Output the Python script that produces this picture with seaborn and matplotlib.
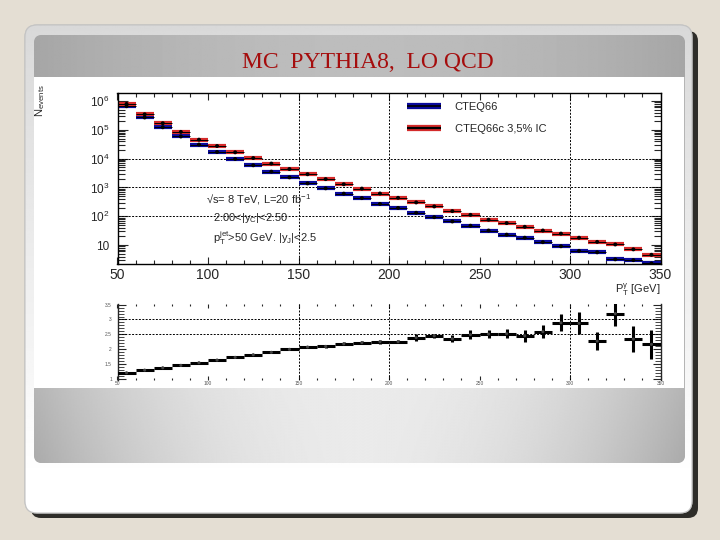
import numpy as np
import pandas as pd
import seaborn as sns
import matplotlib
matplotlib.use("Agg")
import matplotlib.pyplot as plt
from matplotlib.patches import FancyBboxPatch, Rectangle
from matplotlib.lines import Line2D
from matplotlib.ticker import FixedLocator, FixedFormatter, LogLocator, MultipleLocator, NullFormatter

# ---------------- data ----------------
bin_lo = list(range(50, 350, 10))
n_cteq66 = [661000, 269000, 123000, 58900, 30900, 17000, 9770, 5890, 3550, 2240,
            1380, 933, 610, 427, 269, 195, 132, 93, 66, 47,
            32, 23, 18, 12.6, 9.1, 6.3, 5.6, 3.2, 3.0, 2.3]
n_cteq66c = [794000, 347000, 170000, 85100, 45700, 27500, 16600, 10500, 6760, 4370,
             2880, 1950, 1290, 912, 617, 437, 302, 219, 151, 112,
             76, 58, 43, 32, 25, 18, 12.9, 10.5, 7.1, 4.6]
ratio = [1.20, 1.29, 1.37, 1.45, 1.54, 1.63, 1.72, 1.81, 1.89, 1.99,
         2.07, 2.09, 2.18, 2.22, 2.25, 2.25, 2.39, 2.45, 2.35, 2.49,
         2.51, 2.52, 2.45, 2.59, 2.89, 2.87, 2.27, 3.20, 2.34, 2.16]
ratio_err = [0.01, 0.01, 0.01, 0.015, 0.015, 0.02, 0.02, 0.025, 0.03, 0.03,
             0.035, 0.04, 0.045, 0.05, 0.07, 0.06, 0.12, 0.06, 0.11, 0.16,
             0.15, 0.16, 0.20, 0.22, 0.28, 0.37, 0.31, 0.43, 0.45, 0.48]
y_ticks_main = [10, 1e2, 1e3, 1e4, 1e5, 1e6]
y_ticklabels_main = ["10", "10$^2$", "10$^3$", "10$^4$", "10$^5$", "10$^6$"]
r_ticks = [1, 1.5, 2, 2.5, 3, 3.5]
r_ticklabels = ["1", "1.5", "2", "2.5", "3", "3.5"]
x_ticks = [50, 100, 150, 200, 250, 300, 350]
legend_labels = ["CTEQ66", "CTEQ66c 3,5% IC"]
title = "MC  PYTHIA8,  LO QCD"

df = pd.DataFrame({"lo": bin_lo})
df["hi"] = df["lo"] + 10
df["center"] = df["lo"] + 5
df["CTEQ66"] = n_cteq66
df["CTEQ66c"] = n_cteq66c
df["ratio"] = ratio
df["err"] = ratio_err

# ---------------- figure ----------------
sns.set_style("ticks")
plt.rcParams["font.family"] = ["Liberation Sans", "DejaVu Sans"]
plt.rcParams["mathtext.fontset"] = "custom"
plt.rcParams["mathtext.rm"] = "Liberation Sans"
plt.rcParams["mathtext.it"] = "Liberation Sans"
W, H = 720, 540
fig = plt.figure(figsize=(7.2, 5.4), dpi=100, facecolor="#e4ded3")

def px_rect(x0, y0, x1, y1):
    return [x0 / W, 1 - y1 / H, (x1 - x0) / W, (y1 - y0) / H]

# background slide
bg = fig.add_axes([0, 0, 1, 1], zorder=0)
bg.set_xlim(0, W)
bg.set_ylim(H, 0)
bg.axis("off")

shadow = FancyBboxPatch((31, 31), 667, 487, boxstyle="round,pad=0,rounding_size=10",
                        fc="#2e2d29", ec="none")
bg.add_patch(shadow)
card = FancyBboxPatch((25, 25), 667, 488, boxstyle="round,pad=0,rounding_size=12",
                      fc="white", ec="#bdbdbd", lw=0.8)
bg.add_patch(card)
yy = np.linspace(0, 1, 200)[:, None]
card_grad = np.clip(0.85 + 0.15 * yy / 0.93, 0, 1) * np.ones((1, 10))
im = bg.imshow(card_grad, extent=(25, 692, 513, 25), origin="upper", cmap="gray",
               vmin=0, vmax=1, aspect="auto", zorder=1)
im.set_clip_path(card)
card_edge = FancyBboxPatch((25, 25), 667, 488, boxstyle="round,pad=0,rounding_size=12",
                           fc="none", ec="#c4c4c4", lw=0.8, zorder=2)
bg.add_patch(card_edge)

panel = FancyBboxPatch((34, 35), 651, 428, boxstyle="round,pad=0,rounding_size=8",
                       fc="#b5b5b5", ec="none", zorder=2)
bg.add_patch(panel)
t = np.linspace(-1, 1, 400)[None, :]
head = 0.74 - 0.09 * np.abs(t) ** 2 * np.ones((10, 1))
im2 = bg.imshow(head, extent=(34, 685, 77, 35), origin="upper", cmap="gray",
                vmin=0, vmax=1, aspect="auto", zorder=3)
im2.set_clip_path(panel)
v = np.linspace(0, 1, 100)[:, None]
low = 0.92 - 0.21 * np.abs(t) ** 2.2 - 0.04 * v * np.abs(t)
im3 = bg.imshow(low, extent=(34, 685, 463, 388), origin="upper", cmap="gray",
                vmin=0, vmax=1, aspect="auto", zorder=3)
im3.set_clip_path(panel)
bg.add_patch(Rectangle((34, 77), 650, 311, fc="white", ec="none", zorder=4))
bg.text(368, 62, title, ha="center", va="center", fontsize=17, color="#a50d0d",
        family=["Liberation Serif", "DejaVu Serif"], zorder=5)

# ---------------- main plot ----------------
ax = fig.add_axes(px_rect(117.5, 93.3, 660.5, 264.3), zorder=5)
ax.set_facecolor("white")
ax.set_yscale("log")
ax.set_xlim(50, 350)
ax.set_ylim(2.15, 1.86e6)

for yv in [1e2, 1e3, 1e4]:
    ax.axhline(yv, color="black", ls=(0, (2, 1.5)), lw=0.7, zorder=1)
for xv in [150, 200, 300]:
    ax.axvline(xv, color="black", ls=(0, (2, 1.5)), lw=0.7, zorder=1)

blue, red = "#0a0a9c", "#d42a2a"
ax.hlines(df["CTEQ66"], df["lo"], df["hi"], color=blue, lw=3.0, zorder=2)
ax.hlines(df["CTEQ66"], df["lo"], df["hi"], color="black", lw=0.7, zorder=3)
ax.hlines(df["CTEQ66c"], df["lo"], df["hi"], color=red, lw=3.0, zorder=2)
ax.hlines(df["CTEQ66c"], df["lo"], df["hi"], color="black", lw=0.7, zorder=3)
sns.scatterplot(data=df, x="center", y="CTEQ66", ax=ax, color="black", s=8,
                edgecolor="none", zorder=4, legend=False)
sns.scatterplot(data=df, x="center", y="CTEQ66c", ax=ax, color="black", s=8,
                edgecolor="none", zorder=4, legend=False)

ax.set_xlabel("")
ax.set_ylabel("")
ax.xaxis.set_major_locator(FixedLocator(x_ticks))
ax.xaxis.set_minor_locator(MultipleLocator(10))
ax.yaxis.set_major_locator(FixedLocator(y_ticks_main))
ax.yaxis.set_major_formatter(FixedFormatter(y_ticklabels_main))
ax.yaxis.set_minor_locator(LogLocator(base=10, subs=np.arange(2, 10)))
ax.yaxis.set_minor_formatter(NullFormatter())
ax.tick_params(axis="both", which="both", direction="in", top=True, right=True)
ax.tick_params(axis="x", which="major", length=5, width=0.8, labelsize=10, pad=3)
ax.tick_params(axis="x", which="minor", length=3, width=0.8)
ax.tick_params(axis="y", which="major", length=7, width=0.8, labelsize=8.5, pad=6)
ax.tick_params(axis="y", which="minor", length=5, width=0.8)
for s in ax.spines.values():
    s.set_linewidth(1.0)
    s.set_color("black")

# legend
hb = (Line2D([], [], color=blue, lw=4.5, solid_capstyle="butt"),
      Line2D([], [], color="black", lw=1.2, solid_capstyle="butt"))
hr = (Line2D([], [], color=red, lw=4.5, solid_capstyle="butt"),
      Line2D([], [], color="black", lw=1.6, solid_capstyle="butt"))
ax.legend([hb, hr], legend_labels, loc="upper left",
          bbox_to_anchor=((407 - 117.5) / 543, 1 - (102 - 93.3) / 171),
          frameon=False, fontsize=8, handlelength=3.1, handletextpad=1.2,
          labelspacing=1.05, borderpad=0, borderaxespad=0)

# annotations
tx = (206 - 117.5) / 543
ax.text(tx, (264.3 - 200) / 171, "√s= 8 TeV, L=20 fb$^{-1}$", transform=ax.transAxes,
        fontsize=8, va="center", ha="left")
ax.text((213 - 117.5) / 543, (264.3 - 218) / 171, "2.00<|y$_C$|<2.50", transform=ax.transAxes,
        fontsize=8, va="center", ha="left")
ax.text((213 - 117.5) / 543, (264.3 - 238) / 171, "p$_T^{jet}$>50 GeV. |y$_J$|<2.5",
        transform=ax.transAxes, fontsize=8, va="center", ha="left")

fig.text(40 / W, 1 - 101 / H, "N$_{events}$", rotation=90, ha="center", va="center",
         fontsize=8, zorder=6)
fig.text(660 / W, 1 - 290 / H, "P$_T^{\\gamma}$ [GeV]", ha="right", va="center",
         fontsize=8, zorder=6)

# ---------------- ratio plot ----------------
axr = fig.add_axes(px_rect(117.5, 303.5, 660.5, 380), zorder=5)
axr.set_facecolor("none")
axr.set_xlim(50, 350)
axr.set_ylim(0.956, 3.54)
for yv in [2.5, 3]:
    axr.axhline(yv, color="black", ls=(0, (2, 1.5)), lw=0.7, zorder=1)
for xv in [150, 200, 300]:
    axr.axvline(xv, color="black", ls=(0, (2, 1.5)), lw=0.7, zorder=1)
axr.errorbar(df["center"], df["ratio"], xerr=5, yerr=df["err"], fmt="none",
             ecolor="black", elinewidth=2.2, capsize=0, zorder=3)
sns.scatterplot(data=df, x="center", y="ratio", ax=axr, color="#444444", s=5,
                edgecolor="none", zorder=4, legend=False)
axr.set_xlabel("")
axr.set_ylabel("")
axr.spines["top"].set_visible(False)
axr.spines["bottom"].set_visible(False)
axr.spines["left"].set_linewidth(1.0)
axr.spines["right"].set_linewidth(1.0)
axr.xaxis.set_major_locator(FixedLocator(x_ticks))
axr.xaxis.set_minor_locator(MultipleLocator(10))
axr.yaxis.set_major_locator(FixedLocator(r_ticks))
axr.yaxis.set_major_formatter(FixedFormatter(r_ticklabels))
axr.yaxis.set_minor_locator(MultipleLocator(0.1))
axr.tick_params(axis="both", which="both", direction="in", top=True, right=True)
axr.tick_params(axis="x", which="major", length=3, width=0.8, labelsize=3.5, pad=1,
                labelcolor="#555555")
axr.tick_params(axis="x", which="minor", length=1.5, width=0.8)
axr.tick_params(axis="y", which="major", length=6, width=0.8, labelsize=3.5, pad=4,
                labelcolor="#555555")
axr.tick_params(axis="y", which="minor", length=4, width=0.6)

fig.savefig("out.png", dpi=100, facecolor=fig.get_facecolor())
